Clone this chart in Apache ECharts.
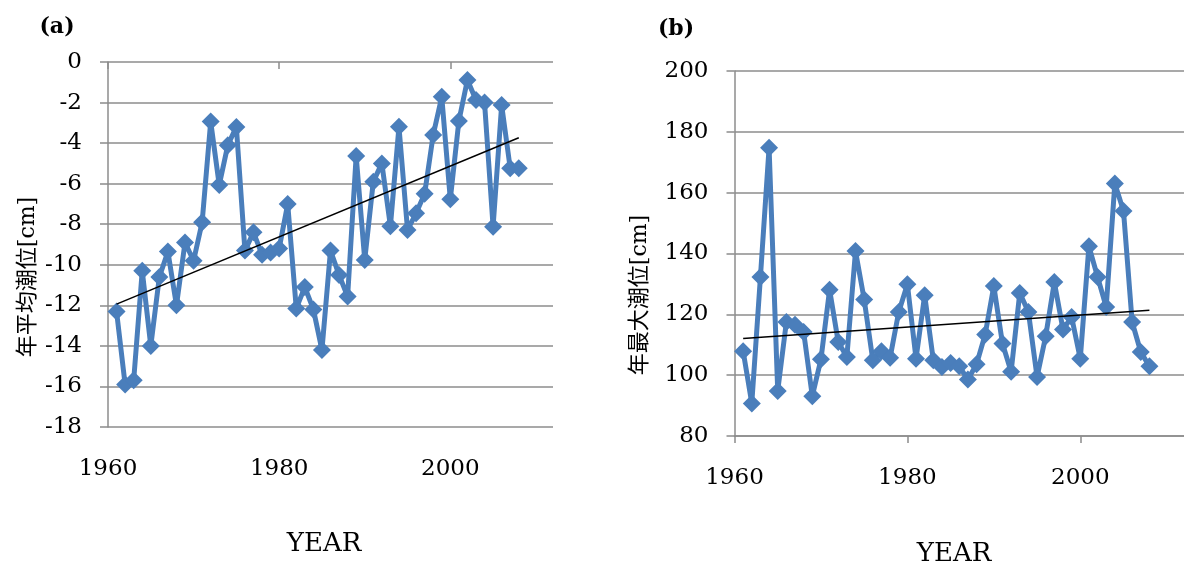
<!DOCTYPE html>
<html>
<head>
<meta charset="UTF-8">
<title>年平均潮位・年最大潮位</title>
<script src="https://cdn.jsdelivr.net/npm/echarts@6/dist/echarts.min.js"></script>
<style>
    body { margin: 0; background: #fff; }
    #chart { width: 1184px; height: 567px; }
</style>
</head>
<body>
<div id="chart"></div>
<script>
    // 観測年
    var years = [1961, 1962, 1963, 1964, 1965, 1966, 1967, 1968, 1969, 1970,
        1971, 1972, 1973, 1974, 1975, 1976, 1977, 1978, 1979, 1980,
        1981, 1982, 1983, 1984, 1985, 1986, 1987, 1988, 1989, 1990,
        1991, 1992, 1993, 1994, 1995, 1996, 1997, 1998, 1999, 2000,
        2001, 2002, 2003, 2004, 2005, 2006, 2007, 2008];
    // (a) 年平均潮位 [cm]
    var meanLevel = [-12.3, -15.9, -15.7, -10.3, -14.0, -10.6, -9.35, -12.0, -8.9, -9.8,
        -7.9, -2.94, -6.07, -4.1, -3.2, -9.3, -8.4, -9.5, -9.4, -9.2,
        -7.0, -12.15, -11.1, -12.2, -14.2, -9.3, -10.5, -11.57, -4.63, -9.76,
        -5.9, -5.0, -8.1, -3.19, -8.28, -7.46, -6.5, -3.6, -1.71, -6.77,
        -2.91, -0.89, -1.87, -2.0, -8.12, -2.12, -5.24, -5.24];
    // (b) 年最大潮位 [cm]
    var maxLevel = [107.9, 90.7, 132.3, 174.8, 94.8, 117.5, 116.6, 114.2, 93.1, 105.2,
        128.1, 110.9, 106.0, 140.8, 124.9, 104.9, 107.9, 105.7, 120.8, 129.9,
        105.4, 126.3, 104.9, 102.7, 104.0, 102.9, 98.6, 103.6, 113.4, 129.3,
        110.4, 101.1, 127.0, 120.8, 99.4, 112.8, 130.6, 115.0, 119.1, 105.4,
        142.4, 132.3, 122.4, 163.0, 154.0, 117.5, 107.6, 102.9];
    var xTicks = [1960, 1980, 2000];

    var blue = '#4a7ebb';
    var gray = '#8c8c8c';
    var font = "'DejaVu Serif', 'Noto Sans CJK JP'";

    function pairs(xs, ys) {
        return xs.map(function (x, i) { return [x, ys[i]]; });
    }

    // 線形近似（Excelの近似曲線と同じ最小二乗）
    function trend(xs, ys) {
        var n = xs.length, sx = 0, sy = 0, sxx = 0, sxy = 0;
        for (var i = 0; i < n; i++) {
            sx += xs[i]; sy += ys[i]; sxx += xs[i] * xs[i]; sxy += xs[i] * ys[i];
        }
        var b = (n * sxy - sx * sy) / (n * sxx - sx * sx);
        var a = (sy - b * sx) / n;
        return [[xs[0], a + b * xs[0]], [xs[n - 1], a + b * xs[n - 1]]];
    }

    function yAxis(grid, min, max, step) {
        return {
            type: 'value', gridIndex: grid, min: min, max: max, interval: step,
            axisLine: {show: true, lineStyle: {color: gray, width: 1.5}},
            axisTick: {show: true, length: 8, lineStyle: {color: gray, width: 1.5}},
            splitLine: {show: true, lineStyle: {color: gray, width: 1.5}},
            axisLabel: {margin: 26, fontSize: 23, fontFamily: font, color: '#000'}
        };
    }

    var xLabel = {
        margin: 31, fontSize: 23, fontFamily: font, color: '#000', customValues: xTicks,
        formatter: function (v) { return String(v); }
    };

    function label(text, x, y, size, rot, weight) {
        return {
            type: 'text', x: x, y: y, rotation: rot || 0,
            style: {
                text: text, fontSize: size, fontFamily: font, fontWeight: weight || 'normal',
                fill: '#000', align: 'center', verticalAlign: 'middle'
            }
        };
    }

    var chart = echarts.init(document.getElementById('chart'));
    var option = {
        animation: false,
        grid: [
            {left: 108, top: 62, width: 445, height: 365},
            {left: 734.5, top: 71, width: 452, height: 365}
        ],
        xAxis: [
            {
                type: 'value', gridIndex: 0, min: 1960, max: 2012, position: 'bottom',
                axisLine: {show: false}, axisTick: {show: false}, splitLine: {show: false},
                axisLabel: xLabel
            },
            {
                type: 'value', gridIndex: 0, min: 1960, max: 2012, position: 'top',
                axisLine: {show: false}, splitLine: {show: false}, axisLabel: {show: false},
                axisTick: {show: true, inside: true, length: 7, customValues: xTicks,
                    lineStyle: {color: gray, width: 1.5}}
            },
            {
                type: 'value', gridIndex: 1, min: 1960, max: 2012, position: 'bottom',
                axisLine: {show: true, onZero: false, lineStyle: {color: gray, width: 1.5}},
                axisTick: {show: true, length: 7, customValues: xTicks,
                    lineStyle: {color: gray, width: 1.5}},
                splitLine: {show: false},
                axisLabel: xLabel
            }
        ],
        yAxis: [
            yAxis(0, -18, 0, 2),
            yAxis(1, 80, 200, 20)
        ],
        series: [
            {
                type: 'line', xAxisIndex: 0, yAxisIndex: 0,
                data: pairs(years, meanLevel),
                symbol: 'diamond', symbolSize: 18,
                lineStyle: {color: blue, width: 5},
                itemStyle: {color: blue}
            },
            {
                type: 'line', xAxisIndex: 0, yAxisIndex: 0, z: 5,
                data: trend(years, meanLevel), symbol: 'none',
                lineStyle: {color: '#000', width: 1.5}
            },
            {
                type: 'line', xAxisIndex: 2, yAxisIndex: 1,
                data: pairs(years, maxLevel),
                symbol: 'diamond', symbolSize: 18,
                lineStyle: {color: blue, width: 5},
                itemStyle: {color: blue}
            },
            {
                type: 'line', xAxisIndex: 2, yAxisIndex: 1, z: 5,
                data: trend(years, maxLevel), symbol: 'none',
                lineStyle: {color: '#000', width: 1.5}
            }
        ],
        graphic: [
            label('(a)', 57, 27, 22, 0, 'bold'),
            label('(b)', 676, 29, 22, 0, 'bold'),
            label('年平均潮位[cm]', 28, 277, 22, Math.PI / 2),
            label('年最大潮位[cm]', 640, 295, 22, Math.PI / 2),
            label('YEAR', 324, 544, 26),
            label('YEAR', 954, 554, 26)
        ]
    };
    chart.setOption(option);
</script>
</body>
</html>
